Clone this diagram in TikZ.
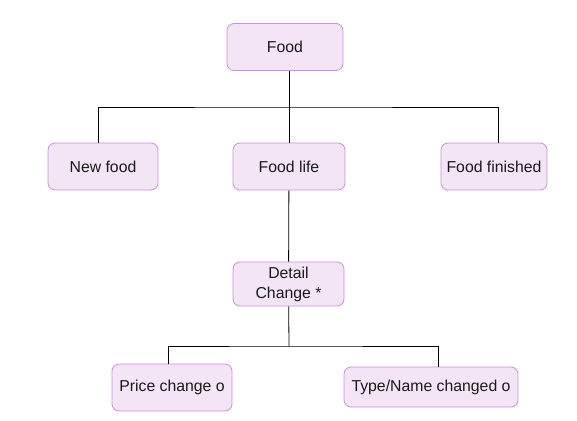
\documentclass[tikz,border=0pt]{standalone}
\usepackage{fontspec}
\setmainfont{Liberation Sans}
\usepackage{tikz}
\usetikzlibrary{positioning}
\usepackage{xcolor}
\definecolor{boxfill}{HTML}{F3E5F6}
\definecolor{boxline}{HTML}{CB8FDB}
\definecolor{ink}{HTML}{1A1A1A}

\begin{document}
\begin{tikzpicture}[x=1pt,y=-1pt, box/.style={rounded corners=7pt,draw=boxline,fill=boxfill,line width=0.8pt,minimum height=47pt,font=\fontsize{15.8}{20}\selectfont,text=ink,align=center}, link/.style={draw=black,line width=0.8pt}]
  \useasboundingbox (0,0) rectangle (577,420);
  \node[box,minimum width=116pt] (food) at (285,47) {Food};
  \node[box,minimum width=110pt] (newfood) at (103,166.5) {New food};
  \node[box,minimum width=112pt] (foodlife) at (289,166.5) {Food life};
  \node[box,minimum width=106pt] (finished) at (494,166.5) {Food finished};
  \node[box,minimum width=111pt,minimum height=44pt] (detail) at (288.5,284) {Detail\\Change *};
  \node[box,minimum width=120pt] (price) at (172,387.5) {Price change o};
  \node[box,minimum width=174pt,minimum height=40pt] (typename) at (431,387) {Type/Name changed o};
  \coordinate (bar1) at (289,107);
  \coordinate (bar2) at (289,346);
  % first level
  \draw[link] (foodlife.north |- food.south) -- (foodlife.north);
  \draw[link] ([xshift=-5pt]newfood.north) |- (bar1) -| ([xshift=4pt]finished.north);
  % second level
  \draw[link] (foodlife) -- (detail);
  \draw[link] ([xshift=-4pt]price.north) |- (bar2) -| ([xshift=7pt]typename.north);
  \draw[link] (detail) -- (bar2);
\end{tikzpicture}
\end{document}
